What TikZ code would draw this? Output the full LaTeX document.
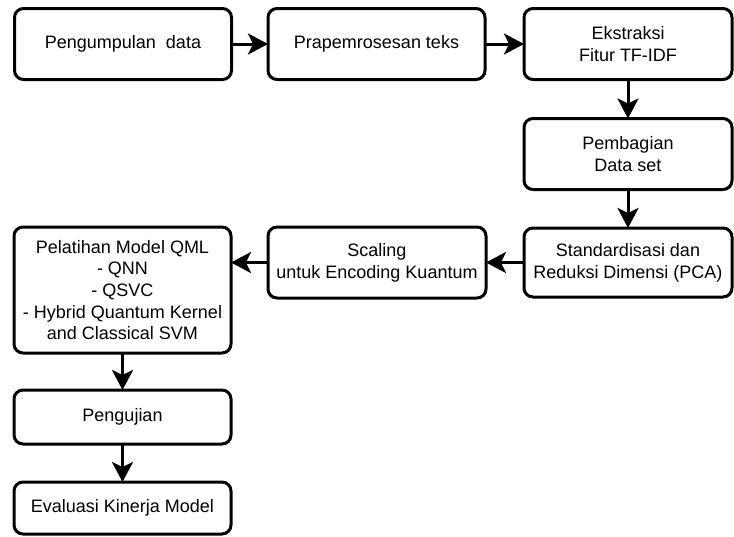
\documentclass[tikz,border=0pt]{standalone}
\usepackage{fontspec}
\setmainfont{Liberation Sans}
\usepackage{tikz}
\usetikzlibrary{arrows.meta}

\begin{document}
\begin{tikzpicture}[x=1pt, y=1pt,
    procbox/.style={draw, line width=3pt, rounded corners=9pt, align=center,
      inner sep=0pt, outer sep=0pt, font=\fontsize{18}{21.7}\selectfont},
    flow/.style={line width=3pt, -{Stealth[length=20pt, width=21pt, inset=5pt]}}]
      \useasboundingbox (0,0) rectangle (734,-536);
      \node[procbox, minimum width=217, minimum height=71] (pengumpulan) at (123,-44) {Pengumpulan\ \ data};
      \node[procbox, minimum width=217, minimum height=71] (prapemrosesan) at (376.5,-44) {Prapemrosesan teks};
      \node[procbox, minimum width=208, minimum height=71] (ekstraksi) at (628,-44) {Ekstraksi\\Fitur TF-IDF};
      \node[procbox, minimum width=208, minimum height=71] (pembagian) at (628,-154) {Pembagian\\Data set};
      \node[procbox, minimum width=208, minimum height=69] (reduksi) at (628,-262.5) {Standardisasi dan\\Reduksi Dimensi (PCA)};
      \node[procbox, minimum width=218, minimum height=71] (scaling) at (377,-262.5) {Scaling\\untuk Encoding Kuantum};
      \node[procbox, minimum width=217, minimum height=126] (pelatihan) at (122.5,-290) {Pelatihan Model QML\\- QNN\\- QSVC\\- Hybrid Quantum Kernel\\and Classical SVM};
      \node[procbox, minimum width=217, minimum height=54] (pengujian) at (122.5,-417) {Pengujian};
      \node[procbox, minimum width=217, minimum height=52] (evaluasi) at (122.5,-508) {Evaluasi Kinerja Model};
      % alur proses
      \draw[flow] (pengumpulan) -- (prapemrosesan);
      \draw[flow] (prapemrosesan) -- (ekstraksi);
      \draw[flow] (ekstraksi) -- (pembagian);
      \draw[flow] (pembagian) -- (reduksi);
      \draw[flow] (reduksi) -- (scaling);
      \draw[flow] (scaling.west) -- (scaling.west -| pelatihan.east);
      \draw[flow] (pelatihan) -- (pengujian);
      \draw[flow] (pengujian) -- (evaluasi);
\end{tikzpicture}
\end{document}
